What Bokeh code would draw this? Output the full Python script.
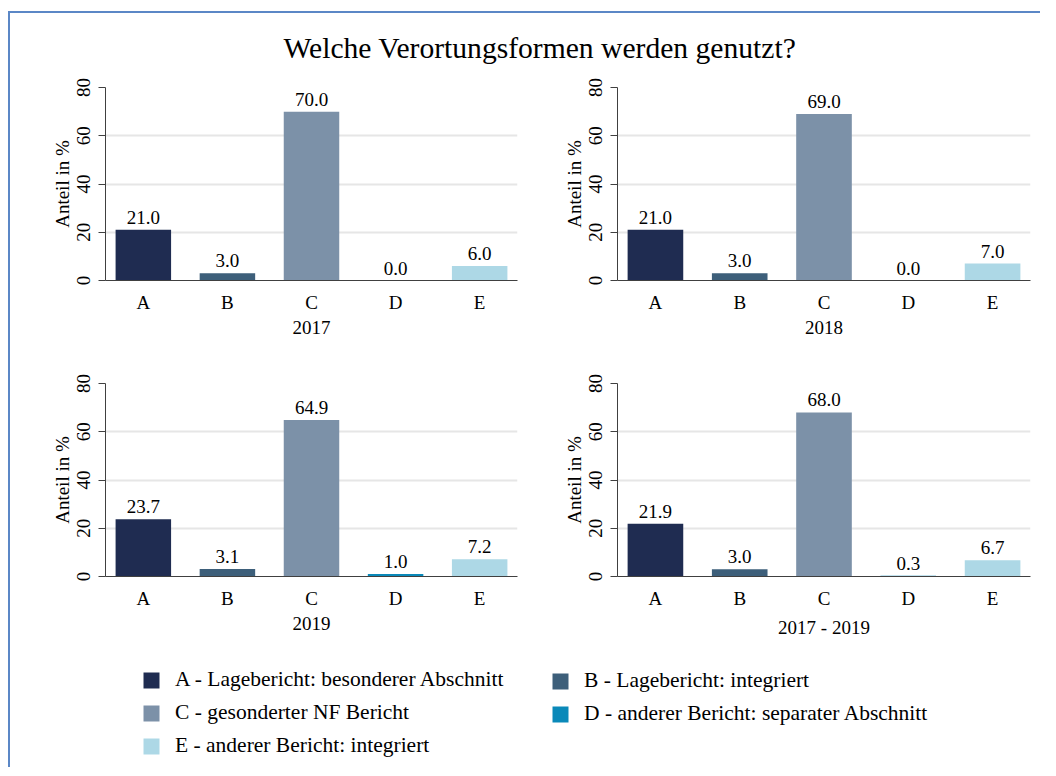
from bokeh.plotting import figure
from bokeh.models import FactorRange, Range1d, ColumnDataSource, Legend, LegendItem
from bokeh.layouts import column, row
from bokeh.embed import file_html
from bokeh.resources import INLINE
from bokeh.core.properties import value

# ---------------- data ----------------
categories = ["A", "B", "C", "D", "E"]
legend_labels = [
    "A - Lagebericht: besonderer Abschnitt",
    "B - Lagebericht: integriert",
    "C - gesonderter NF Bericht",
    "D - anderer Bericht: separater Abschnitt",
    "E - anderer Bericht: integriert",
]
colors = ["#1f2c51", "#3d5f7a", "#7c91a8", "#0a89b9", "#add8e6"]
panel_labels = ["2017", "2018", "2019", "2017 - 2019"]
values_2017 = [21.0, 3.0, 70.0, 0.0, 6.0]
values_2018 = [21.0, 3.0, 69.0, 0.0, 7.0]
values_2019 = [23.7, 3.1, 64.9, 1.0, 7.2]
values_all = [21.9, 3.0, 68.0, 0.3, 6.7]
y_ticks = [0, 20, 40, 60, 80]
title_text = "Welche Verortungsformen werden genutzt?"
y_label = "Anteil in %"

FONT = "Liberation Serif"
AXIS_COL = "#404040"
BORDER_COL = "#5b87c6"


def make_panel(vals, xlabel, border_left, frame_w, border_right):
    src = ColumnDataSource(dict(cat=categories, val=vals, color=colors,
                                lab=[f"{v:.1f}" for v in vals]))
    p = figure(x_range=FactorRange(factors=categories, range_padding=-0.05,
                                   range_padding_units="absolute"),
               y_range=Range1d(0, 80),
               frame_width=frame_w, frame_height=193,
               min_border_left=border_left, min_border_right=border_right,
               min_border_top=12, min_border_bottom=91,
               output_backend="svg", toolbar_location=None,
               outline_line_color=None, background_fill_color=None,
               border_fill_color=None)
    p.vbar(x="cat", top="val", width=0.66, source=src, fill_color="color",
           line_color=None)
    p.text(x="cat", y="val", text="lab", source=src, text_align="center",
           text_baseline="bottom", y_offset=-6, text_font=value(FONT),
           text_font_size="19px", text_color="black")
    p.xgrid.visible = False
    p.ygrid.grid_line_color = "#e6e6e6"
    p.ygrid.grid_line_width = 2
    p.yaxis.ticker = y_ticks
    for ax in (p.xaxis[0], p.yaxis[0]):
        ax.axis_line_color = AXIS_COL
        ax.major_tick_line_color = AXIS_COL
        ax.minor_tick_line_color = None
        ax.major_tick_in = 0
        ax.major_label_text_font = FONT
        ax.major_label_text_font_size = "19px"
        ax.major_label_text_color = "black"
        ax.axis_label_text_font = FONT
        ax.axis_label_text_font_size = "19px"
        ax.axis_label_text_font_style = "normal"
        ax.axis_label_text_color = "black"
    p.yaxis.major_tick_out = 7
    p.yaxis.major_label_orientation = "vertical"
    p.yaxis.major_label_standoff = 9
    p.yaxis.axis_label = y_label
    p.yaxis.axis_label_standoff = 1
    p.xaxis.major_tick_out = 0
    p.xaxis.major_label_standoff = 11
    p.xaxis.axis_label = xlabel
    p.xaxis.axis_label_standoff = 5
    return p


p1 = make_panel(values_2017, panel_labels[0], 95, 412, 8)
p2 = make_panel(values_2018, panel_labels[1], 92, 413, 10)
p3 = make_panel(values_2019, panel_labels[2], 95, 412, 8)
p4 = make_panel(values_all, panel_labels[3], 92, 413, 10)

# ---------------- title ----------------
tfig = figure(width=1030, height=62, title=title_text, x_range=Range1d(0, 1),
              y_range=Range1d(0, 1), output_backend="svg", toolbar_location=None,
              min_border=0, min_border_top=50, outline_line_color=None,
              x_axis_location=None, y_axis_location=None,
              background_fill_color=None, border_fill_color=None)
tfig.grid.visible = False
tfig.title.text_font = FONT
tfig.title.text_font_size = "29.6px"
tfig.title.text_font_style = "normal"
tfig.title.text_color = "black"
tfig.title.align = "left"
tfig.title.offset = 273
tfig.title.standoff = 0

# ---------------- legend ----------------
LEG_W, LEG_H = 1030, 100
leg = figure(width=LEG_W, height=LEG_H, x_range=Range1d(0, 1), y_range=Range1d(0, 1),
             output_backend="svg", toolbar_location=None, min_border=0,
             outline_line_color=None, x_axis_location=None, y_axis_location=None,
             background_fill_color=None, border_fill_color=None)
leg.grid.visible = False
# zero-size placeholder glyphs: they only provide the legend swatches
rends = [leg.vbar(x=[0], top=[0], bottom=[0], width=0, fill_color=c, line_color=None)
         for c in colors]

ITEM_H = 24
SPACING = 8


def make_legend(idx, x_left, first_center_from_top):
    items = [LegendItem(label=legend_labels[i], renderers=[rends[i]]) for i in idx]
    n = len(idx)
    total = n * ITEM_H + (n - 1) * SPACING
    top = first_center_from_top - ITEM_H / 2
    lg = Legend(items=items, location=(x_left, LEG_H - top - total),
                orientation="vertical", padding=0, margin=0, spacing=SPACING,
                glyph_width=20, glyph_height=20, label_height=ITEM_H,
                label_standoff=14, border_line_color=None,
                background_fill_alpha=0, label_text_font=FONT,
                label_text_font_size="21.5px", label_text_color="black")
    leg.add_layout(lg, "center")


make_legend([0, 2, 4], 131, 15)
make_legend([1, 3], 540, 15)

content = column(tfig, row(p1, p2), row(p3, p4), leg,
                 margin=(11, 0, 0, 8),
                 styles={"border-left": f"2px solid {BORDER_COL}",
                         "border-top": f"2px solid {BORDER_COL}"})

open("out.html", "w").write(file_html(content, INLINE))
